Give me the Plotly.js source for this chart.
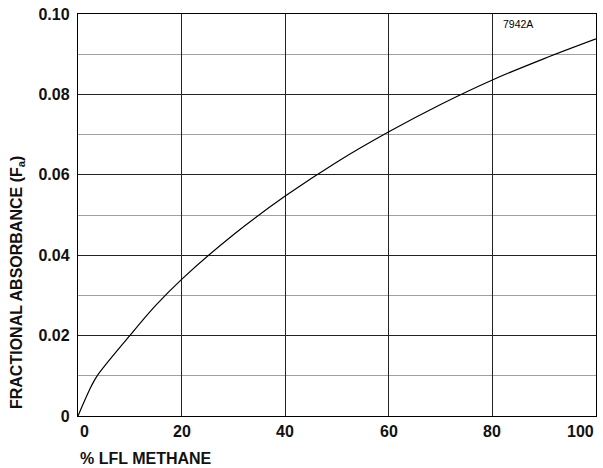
<!DOCTYPE html>
<html>
<head>
<meta charset="utf-8">
<script src="https://cdn.plot.ly/plotly-3.0.1.min.js"></script>
<style>html,body{margin:0;padding:0;background:#fff}#chart{width:603px;height:468px}</style>
</head>
<body>
<div id="chart"></div>
<script>
// Curve: fractional absorbance vs % LFL methane
const lflPercent = [0, 2.6, 3.7, 10, 15, 20, 30, 40, 50, 60, 70, 80, 90, 100];
const absorbance = [0, 0.0075, 0.0100, 0.0200, 0.0275, 0.0340, 0.0451, 0.0547, 0.0632, 0.0707, 0.0775, 0.0836, 0.0889, 0.0938];

const xTickVals = [0, 20, 40, 60, 80, 100];
const xTickText = ['0', '20', '40', '60', '80', '100'];
const yTickVals = [0, 0.02, 0.04, 0.06, 0.08, 0.10];
const yTickText = ['0', '0.02', '0.04', '0.06', '0.08', '0.10'];
const xTitle = '% LFL METHANE';
const yTitle = 'FRACTIONAL ABSORBANCE (F<sub>a</sub>)';
const figureCode = '7942A';

const FONT = 'Liberation Sans, Arial, Helvetica, sans-serif';
const TXT = {family: FONT, size: 16, color: '#111', weight: 'bold'};

const annotations = xTickVals.map((v, i) => ({
  xref: 'x', yref: 'paper', x: v, y: 0, yshift: -15,
  text: xTickText[i], showarrow: false,
  xanchor: i === 0 ? 'left' : (i === xTickVals.length - 1 ? 'right' : 'center'),
  yanchor: 'middle',
  font: TXT
}));
annotations.push({
  xref: 'paper', yref: 'paper', x: 0, y: -0.106, text: xTitle, showarrow: false,
  xanchor: 'left', yanchor: 'middle', font: TXT
});
annotations.push({
  xref: 'paper', yref: 'paper', x: -0.118, y: 0.333, text: yTitle, showarrow: false,
  textangle: -90, xanchor: 'center', yanchor: 'middle', font: TXT
});
annotations.push({
  xref: 'paper', yref: 'paper', x: 0.85, y: 0.975, text: figureCode, showarrow: false,
  xanchor: 'center', yanchor: 'middle', font: {family: FONT, size: 10.5, color: '#000'}
});

const data = [{
  x: lflPercent, y: absorbance, type: 'scatter', mode: 'lines',
  line: {color: '#000', width: 1.2, shape: 'spline', smoothing: 1}, hoverinfo: 'skip'
}];

const layout = {
  width: 603, height: 468,
  margin: {l: 78, r: 7, t: 14, b: 52, pad: 0},
  paper_bgcolor: '#fff', plot_bgcolor: '#fff',
  showlegend: false,
  font: {family: FONT, size: 16, color: '#000'},
  xaxis: {
    range: [0, 100], tickvals: xTickVals, ticktext: xTickText, showticklabels: false,
    showgrid: true, gridcolor: '#222', gridwidth: 1,
    zeroline: false, showline: true, mirror: true, linecolor: '#000', linewidth: 1.2,
    ticks: '', fixedrange: true
  },
  yaxis: {
    range: [0, 0.10], tickvals: yTickVals, ticktext: yTickText,
    showgrid: true, gridcolor: '#222', gridwidth: 1,
    minor: {dtick: 0.01, tick0: 0, showgrid: true, gridcolor: '#a0a0a0', gridwidth: 1, ticks: ''},
    zeroline: false, showline: true, mirror: true, linecolor: '#000', linewidth: 1.2,
    ticks: '', ticklabelstandoff: 4,
    tickfont: TXT, fixedrange: true
  },
  annotations: annotations
};

Plotly.newPlot('chart', data, layout, {staticPlot: true, displayModeBar: false});
</script>
</body>
</html>
